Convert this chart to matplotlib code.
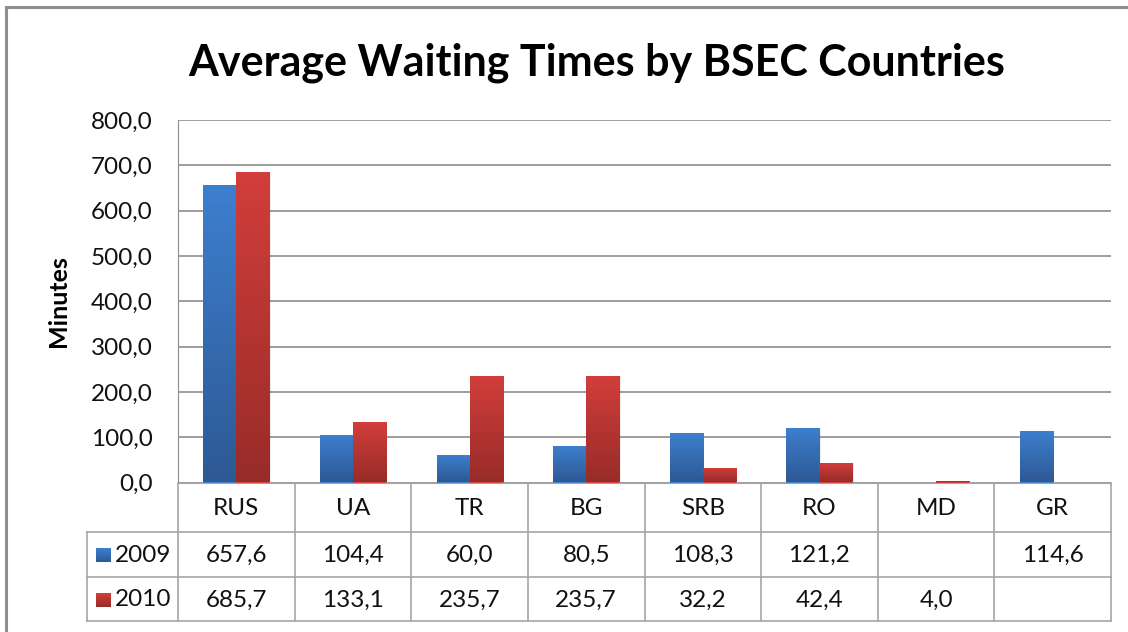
import matplotlib
matplotlib.use("Agg")
import matplotlib.pyplot as plt
import numpy as np
from matplotlib.colors import LinearSegmentedColormap
from matplotlib.patches import Rectangle

categories = ["RUS", "UA", "TR", "BG", "SRB", "RO", "MD", "GR"]
series_names = ["2009", "2010"]
values_2009 = [657.6, 104.4, 60.0, 80.5, 108.3, 121.2, None, 114.6]
values_2010 = [685.7, 133.1, 235.7, 235.7, 32.2, 42.4, 4.0, None]
y_ticks = [0, 100, 200, 300, 400, 500, 600, 700, 800]

# (top colour, bottom colour) of the gradient fills
GRADS = {"2009": ("#3D7FCF", "#2E5994"), "2010": ("#D23E3B", "#982C29")}
GRID = "#8C8C8C"
LINE = "#A6A6A6"
FONT = "Lato"
FS = 17.5

W, H = 1128, 632


def fx(px):
    return px / W


def fy(py):
    return 1 - py / H


def fmt(v):
    return "" if v is None else f"{v:.1f}".replace(".", ",")


def grad_bar(ax, x, w, h, name):
    top, bot = GRADS[name]
    cmap = LinearSegmentedColormap.from_list(name, [bot, top])
    # solid base so very short bars still show their colour
    rect = Rectangle((x - w / 2, 0), w, h, facecolor=top, edgecolor="none", zorder=1.8)
    ax.add_patch(rect)
    if h > 20:
        # faint shadow on the right side
        ax.add_patch(Rectangle((x - w / 2 + 0.012, 0), w, h, facecolor="#000000",
                               alpha=0.07, edgecolor="none", zorder=1.5))
    im = ax.imshow(np.linspace(0, 1, 100).reshape(-1, 1), cmap=cmap, aspect="auto",
                   origin="lower", extent=(x - w / 2, x + w / 2, 0, h), zorder=2)
    im.set_clip_path(rect)


fig = plt.figure(figsize=(W / 100, H / 100), dpi=100)

# outer chart border (the right and bottom edges are cut off in the source)
fig.add_artist(plt.Line2D([fx(6), fx(6)], [fy(7), 0], color="#8E8E8E", lw=2.2))
fig.add_artist(plt.Line2D([fx(6), 1], [fy(7), fy(7)], color="#8E8E8E", lw=2.2))

ax = fig.add_axes([fx(178), fy(482.5), fx(1111) - fx(178), fy(120) - fy(482.5)])
n = len(categories)
ax.set_xlim(-0.5, n - 0.5)
ax.set_ylim(0, 800)
bw = 33 / 116.6
for i in range(n):
    if values_2009[i] is not None:
        grad_bar(ax, i - bw / 2, bw, values_2009[i], "2009")
    if values_2010[i] is not None:
        grad_bar(ax, i + bw / 2, bw, values_2010[i], "2010")

ax.set_yticks(y_ticks)
ax.set_yticklabels([fmt(float(t)) for t in y_ticks], fontsize=FS, family=FONT, color="#111111")
ax.set_xticks([])
ax.tick_params(axis="y", length=0, pad=18)
ax.yaxis.grid(True, color=GRID, lw=1.2)
ax.set_axisbelow(True)
for s in ("top", "right"):
    ax.spines[s].set_visible(False)
ax.spines["left"].set_color(GRID)
ax.spines["bottom"].set_color(LINE)

fig.text(fx(59), fy(301), "Minutes", rotation=90, ha="center", va="center",
         fontsize=18, fontweight="bold", family=FONT)

fig.text(fx(597), fy(63), "Average Waiting Times by BSEC Countries", ha="center",
         va="center", fontsize=31, fontweight="bold", family=FONT)

# data table under the chart
row_y = [482.5, 532.3, 576.7, 621.3]
tab = fig.add_axes([fx(178), fy(621.3), fx(1111) - fx(178), fy(482.5) - fy(621.3)])
tab.axis("off")
left = -0.5 - (178 - 86.7) / 116.6
for i in range(n + 1):
    tab.plot([i - 0.5, i - 0.5], [row_y[0], row_y[3]], color=LINE, lw=1.2, clip_on=False)
tab.plot([left, left], [row_y[1], row_y[3]], color=LINE, lw=1.2, clip_on=False)
for y in row_y[1:]:
    tab.plot([left, n - 0.5], [y, y], color=LINE, lw=1.2, clip_on=False)

for i, c in enumerate(categories):
    tab.text(i, (row_y[0] + row_y[1]) / 2 + 1, c, ha="center", va="center",
             fontsize=FS, family=FONT, color="#111111")
for r, (name, vals) in enumerate(zip(series_names, [values_2009, values_2010])):
    yc = (row_y[r + 1] + row_y[r + 2]) / 2 + 1
    for i, v in enumerate(vals):
        tab.text(i, yc, fmt(v), ha="center", va="center", fontsize=FS,
                 family=FONT, color="#111111")
    # legend key
    top, bot = GRADS[name]
    cmap = LinearSegmentedColormap.from_list(name + "k", [bot, top])
    kx0 = left + (96 - 86.7) / 116.6
    kx1 = left + (110.5 - 86.7) / 116.6
    tab.imshow(np.linspace(0, 1, 50).reshape(-1, 1), cmap=cmap, aspect="auto",
               origin="lower", extent=(kx0, kx1, yc + 7, yc - 7), clip_on=False)
    tab.text(left + (115 - 86.7) / 116.6, yc, name, ha="left", va="center",
             fontsize=FS, family=FONT, color="#111111")
tab.set_xlim(-0.5, n - 0.5)
tab.set_ylim(621.3, 482.5)

fig.savefig("out.png", dpi=100)
